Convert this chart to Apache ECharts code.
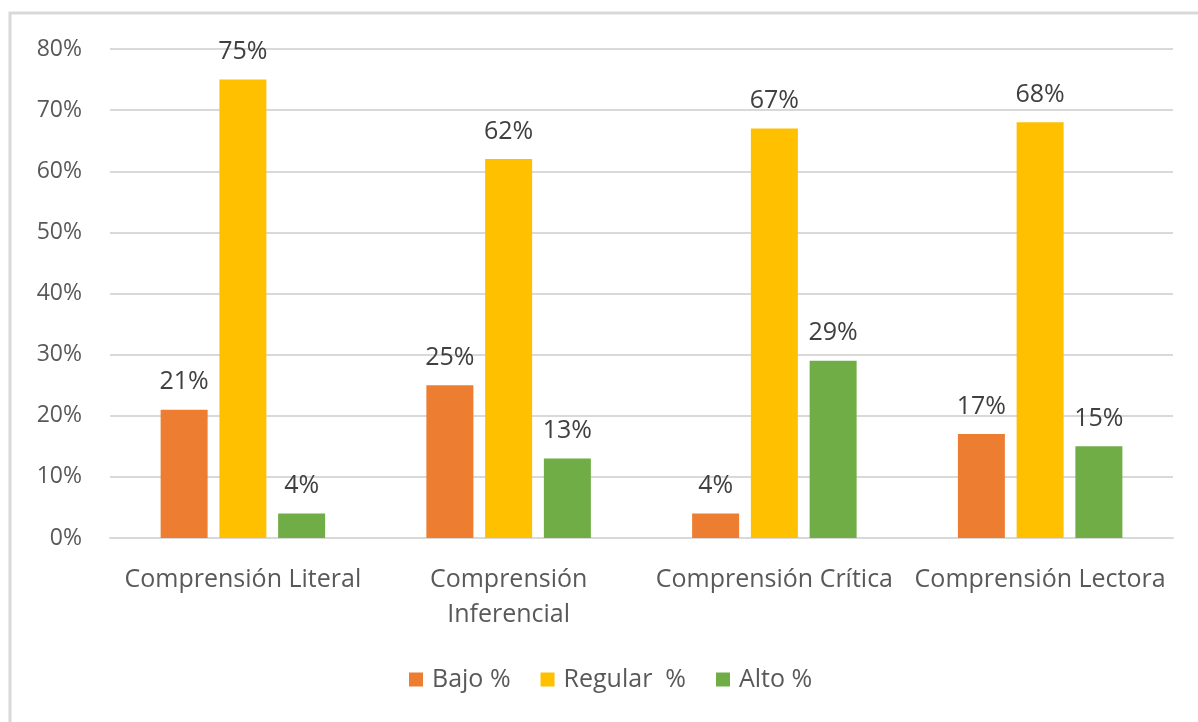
<!DOCTYPE html>
<html>
<head>
<meta charset="UTF-8">
<title>Comprensión lectora</title>
<script type="text/javascript" src="https://cdn.jsdelivr.net/npm/echarts@6/dist/echarts.min.js"></script>
<style>
  html, body { margin:0; padding:0; background:#fff; }
</style>
</head>
<body>
<div id="main" style="width:1198px;height:722px"></div>
<script type="text/javascript">
// datos
var categorias = ['Comprensión Literal', 'Comprensión\nInferencial', 'Comprensión Crítica', 'Comprensión Lectora'];
var bajo = [21, 25, 4, 17];
var regular = [75, 62, 67, 68];
var alto = [4, 13, 29, 15];
var nombres = ['Bajo %', 'Regular  %', 'Alto %'];
var colores = ['#ED7D31', '#FFC000', '#70AD47'];

var fuente = '"Open Sans", "Noto Sans", sans-serif';
var myChart = echarts.init(document.getElementById('main'));

function serie(nombre, datos, color) {
  return {
    name: nombre,
    type: 'bar',
    data: datos,
    barWidth: 47,
    barGap: '25%',
    itemStyle: { color: color },
    label: {
      show: true,
      position: 'top',
      distance: 15,
      formatter: '{c}%',
      color: '#404040',
      fontSize: 25,
      fontFamily: fuente
    }
  };
}

var option = {
  animation: false,
  color: colores,
  graphic: [{
    type: 'rect',
    shape: { x: 10, y: 13, width: 1220, height: 740 },
    style: { fill: 'none', stroke: '#d9d9d9', lineWidth: 3 },
    silent: true
  }],
  grid: { left: 110, right: 25, top: 49, bottom: 184 },
  legend: {
    data: nombres,
    bottom: 25,
    left: 404,
    itemWidth: 14,
    itemHeight: 14,
    itemGap: 30,
    icon: 'rect',
    textStyle: { color: '#595959', fontSize: 25, fontFamily: fuente, padding: [0, 0, 0, 4] }
  },
  xAxis: {
    type: 'category',
    data: categorias,
    axisLine: { lineStyle: { color: '#d9d9d9', width: 2 } },
    axisTick: { show: false },
    axisLabel: {
      color: '#595959',
      fontSize: 25,
      fontFamily: fuente,
      margin: 24,
      lineHeight: 35,
      interval: 0
    }
  },
  yAxis: {
    type: 'value',
    min: 0,
    max: 80,
    interval: 10,
    axisLine: { show: false },
    axisTick: { show: false },
    splitLine: { lineStyle: { color: '#d9d9d9', width: 2 } },
    axisLabel: {
      formatter: '{value}%',
      color: '#595959',
      fontSize: 23,
      fontFamily: fuente,
      margin: 28
    }
  },
  series: [
    serie(nombres[0], bajo, colores[0]),
    serie(nombres[1], regular, colores[1]),
    serie(nombres[2], alto, colores[2])
  ]
};

myChart.setOption(option);
</script>
</body>
</html>
